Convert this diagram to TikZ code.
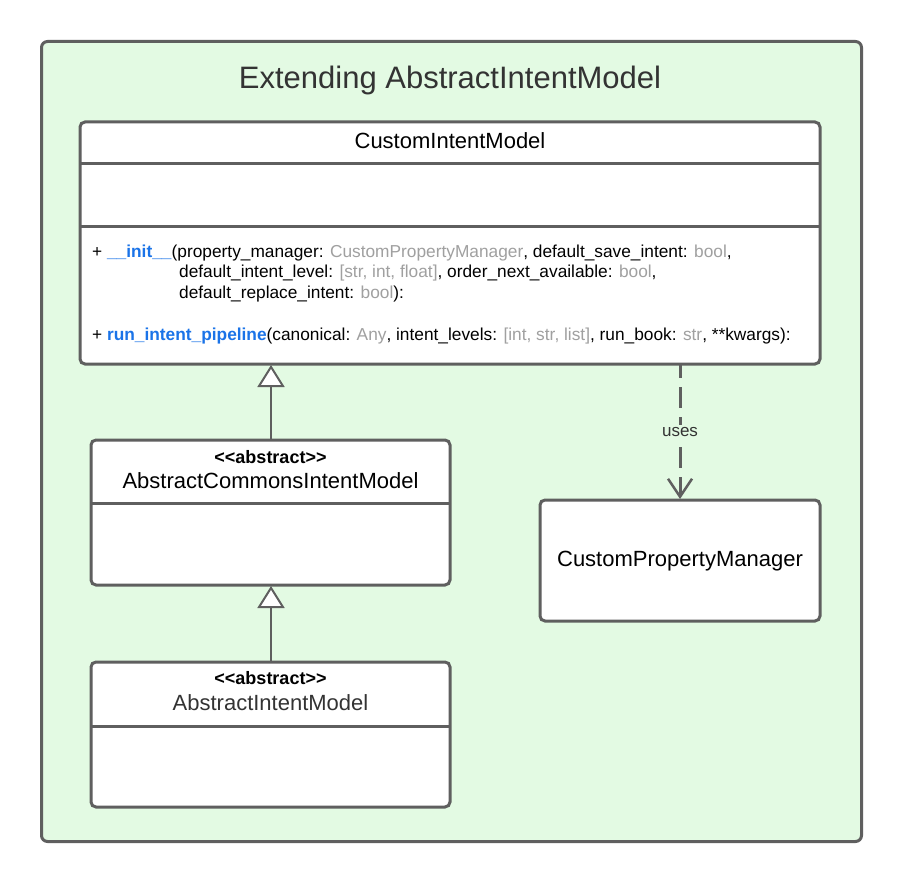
\documentclass[tikz,border=0pt]{standalone}
\usepackage{fontspec}
\setmainfont{Liberation Sans}
\usetikzlibrary{arrows.meta}
\definecolor{frame}{HTML}{5F5F5F}
\definecolor{bg}{HTML}{E3FAE3}
\definecolor{blu}{HTML}{1A73E8}
\definecolor{gry}{HTML}{A0A0A0}
\definecolor{dk}{HTML}{333333}
\tikzset{
  classbox/.style={draw=frame, line width=3pt, fill=white, rounded corners=5pt, anchor=north west, inner sep=0pt, outer sep=0pt},
  divider/.style={draw=frame, line width=3pt},
  txt/.style={inner sep=0pt, anchor=base},
  mline/.style={inner sep=0pt, anchor=base west, font=\fontsize{17.3}{20}\selectfont},
  inherit/.style={draw=frame, line width=2pt, -{Triangle[open, fill=white, length=22pt, width=27pt]}},
  uses/.style={draw=frame, line width=3pt, dash pattern=on 21pt off 9pt, dash phase=8pt, -{Straight Barb[length=18pt, width=24pt, line width=2.5pt]}}
}
\begin{document}
\begin{tikzpicture}[x=1pt,y=-1pt]
\useasboundingbox (0,0) rectangle (900,880);
\fill[white] (0,0) rectangle (900,880);
% outer frame
\node[draw=frame, line width=3pt, fill=bg, rounded corners=6pt, anchor=north west, inner sep=0pt, minimum width=820pt, minimum height=800pt] (outer) at (40,40) {};
\node[txt, font=\fontsize{31}{36}\selectfont, text=dk] (title) at (450,89) {Extending AbstractIntentModel};

% CustomIntentModel
\node[classbox, minimum width=740pt, minimum height=242pt] (cim) at (80,122) {};
\draw[divider] ([yshift=-42pt]cim.north west) -- ([yshift=-42pt]cim.north east);
\draw[divider] ([yshift=-104pt]cim.north west) -- ([yshift=-104pt]cim.north east);
\node[txt, font=\fontsize{22}{26}\selectfont] (cimname) at (450,149) {CustomIntentModel};
\node[mline] (m1) at (92,257) {+ \textcolor{blu}{\textbf{\_\_init\_\_}}(property\_manager: \textcolor{gry}{CustomPropertyManager}, default\_save\_intent: \textcolor{gry}{bool},};
\node[mline] (m2) at (179,277.5) {default\_intent\_level: \textcolor{gry}{[str, int, float]}, order\_next\_available: \textcolor{gry}{bool},};
\node[mline] (m3) at (179,298) {default\_replace\_intent: \textcolor{gry}{bool}):};
\node[mline] (m4) at (92,340) {+ \textcolor{blu}{\textbf{run\_intent\_pipeline}}(canonical: \textcolor{gry}{Any}, intent\_levels: \textcolor{gry}{[int, str, list]}, run\_book: \textcolor{gry}{str}, **kwargs):};

% AbstractCommonsIntentModel
\node[classbox, minimum width=359pt, minimum height=145pt] (acim) at (91,440) {};
\draw[divider] ([yshift=-63pt]acim.north west) -- ([yshift=-63pt]acim.north east);
\node[txt, font=\fontsize{18}{21}\selectfont\bfseries] (acims) at (270.5,463) {<{}<abstract>{}>};
\node[txt, font=\fontsize{22}{26}\selectfont] (aciman) at (270.5,488) {AbstractCommonsIntentModel};

% AbstractIntentModel
\node[classbox, minimum width=359pt, minimum height=145pt] (aim) at (91,662) {};
\draw[divider] ([yshift=-64pt]aim.north west) -- ([yshift=-64pt]aim.north east);
\node[txt, font=\fontsize{18}{21}\selectfont\bfseries] (aims) at (270.5,684) {<{}<abstract>{}>};
\node[txt, font=\fontsize{22}{26}\selectfont, text=dk] (aimn) at (270.5,710) {AbstractIntentModel};

% CustomPropertyManager
\node[classbox, minimum width=280pt, minimum height=121pt] (cpm) at (540,500) {};
\node[txt, font=\fontsize{22}{26}\selectfont] (cpmn) at (680,566) {CustomPropertyManager};

% connectors
\coordinate (cimb1) at (271,365);
\coordinate (acimt) at (271,440);
\coordinate (acimb) at (271,586);
\coordinate (aimt) at (271,662);
\draw[inherit] (acimt) -- (cimb1);
\draw[inherit] (aimt) -- (acimb);
\coordinate (cimb2) at (680,365);
\coordinate (cpmt) at (680,499);
\draw[uses] (cimb2) -- node[fill=bg, inner sep=2pt, font=\fontsize{17}{20}\selectfont, text=dk, pos=0.5] (useslbl) {uses} (cpmt);
\end{tikzpicture}
\end{document}
